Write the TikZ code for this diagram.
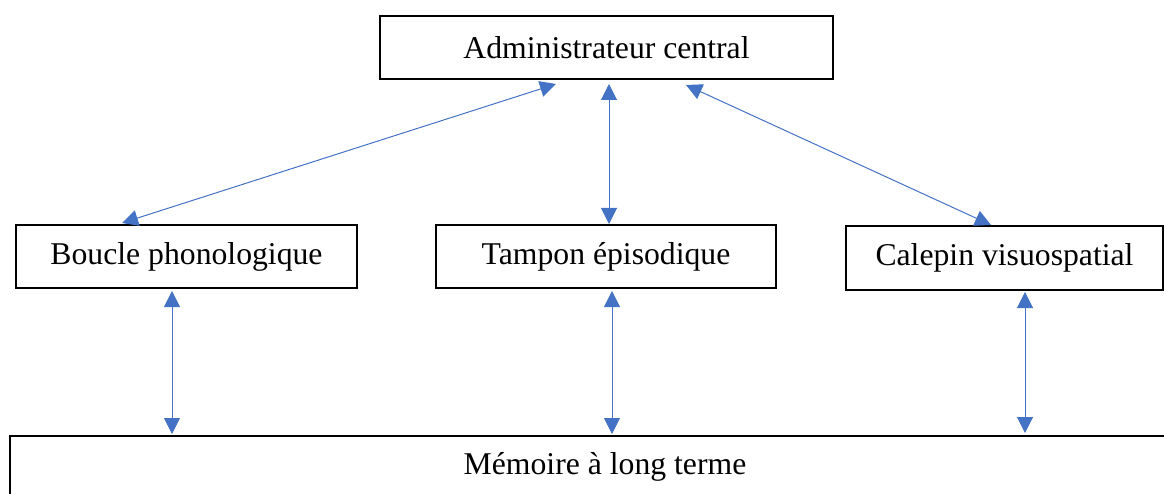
\documentclass[tikz,border=0pt]{standalone}
\usepackage{fontspec}
\setmainfont{Liberation Serif}
\usetikzlibrary{arrows.meta,calc}
\definecolor{arrblue}{HTML}{4472C4}
\begin{document}
\begin{tikzpicture}[x=1pt,y=-1pt,
  box/.style={draw=black,line width=2pt,rectangle,inner sep=0pt,
    font=\fontsize{31.7}{36}\selectfont},
  arr/.style={draw=arrblue,line width=1pt,
    {Triangle[length=16pt,width=16pt]}-{Triangle[length=16pt,width=16pt]}}]
\useasboundingbox (0,0) rectangle (1164,494);
\begin{scope}
\clip (0,0) rectangle (1164,494);
\node[box,minimum width=453pt,minimum height=63pt] (admin) at (606.5,47.5) {Administrateur central};
\node[box,minimum width=341pt,minimum height=63pt] (boucle) at (186.5,256.5) {Boucle phonologique};
\node[box,minimum width=340pt,minimum height=63pt] (tampon) at (606,256.5) {Tampon épisodique};
\node[box,minimum width=317pt,minimum height=64pt] (calepin) at (1004.5,258) {Calepin visuospatial};
\node[box,minimum width=1190pt,minimum height=62pt] (mem) at (605,467) {Mémoire à long terme};
\draw[arr] ($(admin.south)+(-50.5,4)$) -- ($(boucle.north)+(-64.5,-1)$);
\draw[arr] ($(admin.south)+(2.5,4)$) -- ($(tampon.north)+(3,0)$);
\draw[arr] ($(admin.south)+(79.5,5)$) -- ($(calepin.north)+(-13.5,0)$);
\draw[arr] ($(boucle.south)+(-14.5,2)$) -- ($(mem.north)+(-433,-1)$);
\draw[arr] ($(tampon.south)+(6,2)$) -- ($(mem.north)+(7,-1)$);
\draw[arr] ($(calepin.south)+(20.5,1)$) -- ($(mem.north)+(420,-2)$);
\end{scope}
\end{tikzpicture}
\end{document}
